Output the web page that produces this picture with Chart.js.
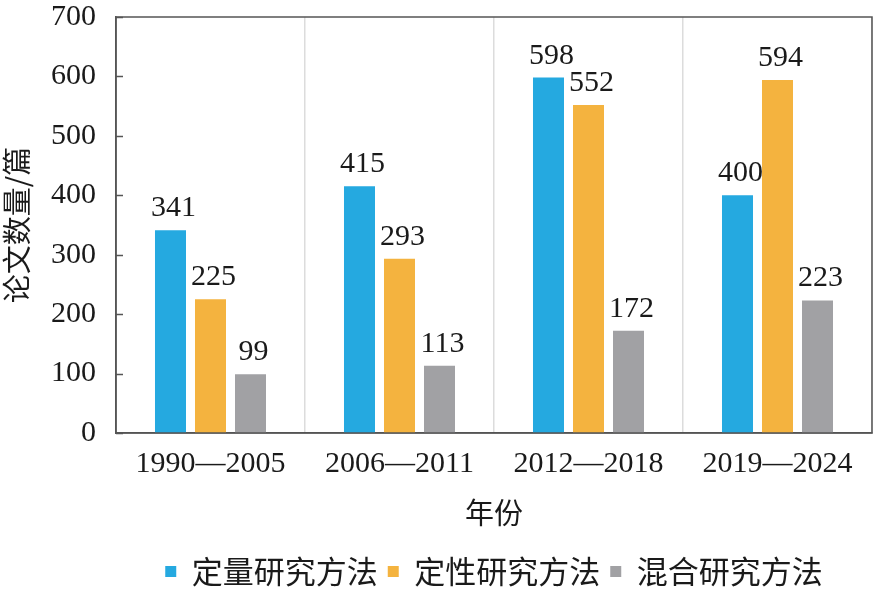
<!DOCTYPE html>
<html>
<head>
<meta charset="utf-8">
<script src="https://cdn.jsdelivr.net/npm/chart.js@4"></script>
<style>
  html, body { margin: 0; padding: 0; background: #fff; }
  #wrap { width: 874px; height: 593px; position: relative; }
</style>
</head>
<body>
<div id="wrap"><canvas id="c"></canvas></div>
<script>
const categories = ['1990—2005', '2006—2011', '2012—2018', '2019—2024'];
const seriesNames = ['定量研究方法', '定性研究方法', '混合研究方法'];
const quantitative = [341, 415, 598, 400];
const qualitative = [225, 293, 552, 594];
const mixed = [99, 113, 172, 223];
const yTicks = [0, 100, 200, 300, 400, 500, 600, 700];
const colors = ['#25A9E0', '#F4B33F', '#A1A1A4'];

const serif = "'Liberation Serif', 'Times New Roman', serif";
const cjk = "'Noto Sans CJK SC', 'Liberation Serif', sans-serif";

const frame = {
  id: 'frame',
  afterDatasetsDraw(chart) {
    const {ctx, chartArea: a} = chart;
    const y = chart.scales.y;
    ctx.save();
    ctx.strokeStyle = '#555';
    ctx.lineWidth = 1.5;
    ctx.strokeRect(a.left, a.top, a.right - a.left, a.bottom - a.top);
    ctx.beginPath();
    yTicks.forEach(v => {
      const py = Math.round(y.getPixelForValue(v)) + 0.5;
      ctx.moveTo(a.left, py);
      ctx.lineTo(a.left + 7, py);
    });
    ctx.stroke();
    ctx.restore();
  }
};

const valueLabels = {
  id: 'valueLabels',
  afterDatasetsDraw(chart) {
    const {ctx} = chart;
    ctx.save();
    ctx.font = '30px ' + serif;
    ctx.fillStyle = '#1a1a1a';
    ctx.textAlign = 'center';
    ctx.textBaseline = 'alphabetic';
    chart.data.datasets.forEach((ds, i) => {
      chart.getDatasetMeta(i).data.forEach((el, j) => {
        ctx.fillText(String(ds.data[j]), el.x + 3, el.y - 14);
      });
    });
    ctx.restore();
  }
};

new Chart(document.getElementById('c'), {
  type: 'bar',
  data: {
    labels: categories,
    datasets: [
      { label: seriesNames[0], data: quantitative, backgroundColor: colors[0] },
      { label: seriesNames[1], data: qualitative, backgroundColor: colors[1] },
      { label: seriesNames[2], data: mixed, backgroundColor: colors[2] }
    ]
  },
  options: {
    responsive: true,
    maintainAspectRatio: false,
    animation: false,
    devicePixelRatio: 1,
    layout: { padding: { top: 17, right: 2, left: 0, bottom: -4 } },
    datasets: { bar: { barPercentage: 0.775, categoryPercentage: 0.635, borderWidth: 0 } },
    scales: {
      x: {
        offset: true,
        grid: { display: true, color: '#dcdcdc', lineWidth: 1.5, drawTicks: false, offset: true },
        border: { display: true, color: '#555', width: 1.5 },
        ticks: { font: { family: serif, size: 30, lineHeight: 1 }, color: '#1a1a1a', padding: 16 },
        title: { display: true, text: '年份', font: { family: cjk, size: 29, lineHeight: 1 }, color: '#1a1a1a', padding: { top: 3, bottom: 19 } }
      },
      y: {
        min: 0, max: 700,
        afterFit(scale) { scale.width = 116; scale.paddingTop = 0; scale.paddingBottom = 0; },
        grid: { display: false },
        border: { display: true, color: '#555', width: 1.5 },
        ticks: { stepSize: 100, font: { family: serif, size: 30, lineHeight: 1 }, color: '#1a1a1a', padding: 12 },
        title: { display: true, text: '论文数量/篇', font: { family: cjk, size: 29, lineHeight: 1.2 }, color: '#1a1a1a', padding: 0 }
      }
    },
    plugins: {
      legend: {
        position: 'bottom',
        fullSize: false,
        labels: { boxWidth: 11, boxHeight: 11, padding: 10, font: { family: cjk, size: 31 }, color: '#1a1a1a' }
      },
      tooltip: { enabled: false }
    }
  },
  plugins: [frame, valueLabels]
});
</script>
</body>
</html>
